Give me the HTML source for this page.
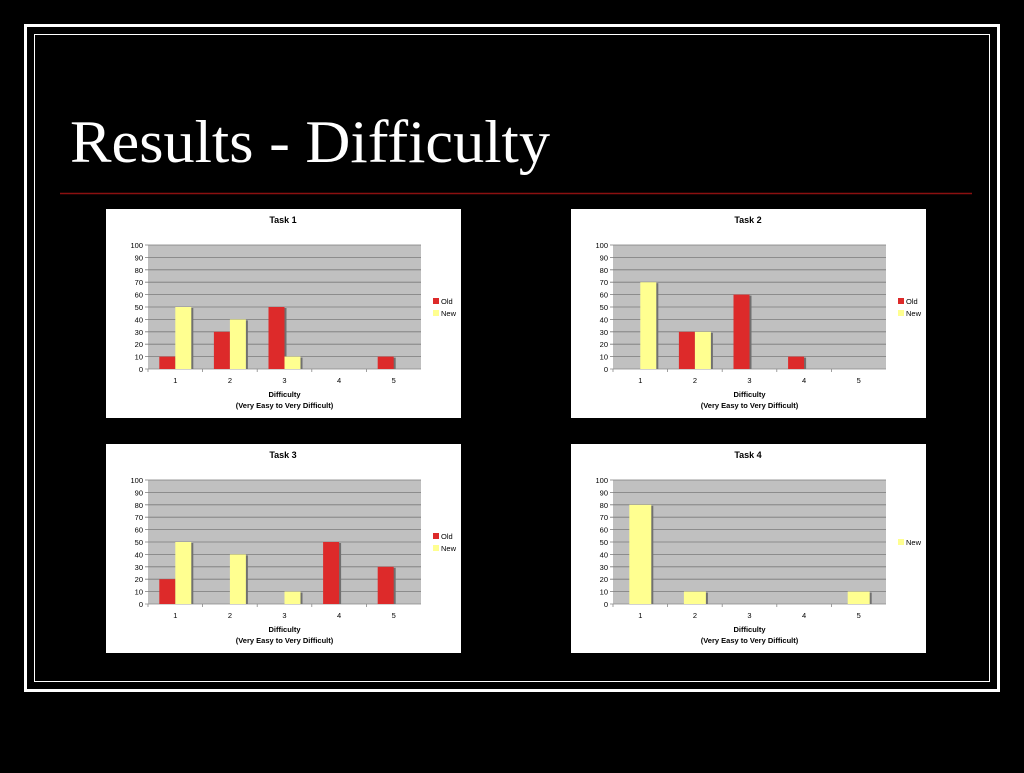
<!DOCTYPE html>
<html><head><meta charset="utf-8"><style>
html,body{margin:0;padding:0;background:#000;}
body{width:1024px;height:768px;position:relative;overflow:hidden;font-family:"Liberation Sans",sans-serif;}
</style></head><body>
<svg id="slide" width="1024" height="768" xmlns="http://www.w3.org/2000/svg">
<rect x="25.5" y="25.5" width="973" height="665" fill="none" stroke="#fff" stroke-width="3"/>
<rect x="34.5" y="34.5" width="955" height="647" fill="none" stroke="#fff" stroke-width="1"/>
<text x="70" y="162" fill="#fff" font-family="Liberation Serif, serif" font-size="60" textLength="480" lengthAdjust="spacingAndGlyphs">Results - Difficulty</text>
<line x1="60" y1="193.5" x2="972" y2="193.5" stroke="#8b1010" stroke-width="1.5"/>
<g id="charts"></g>
</svg>
<script>
const categories=["1","2","3","4","5"];
const yTicks=[0,10,20,30,40,50,60,70,80,90,100];
const task1Old=[10,30,50,0,10];
const task1New=[50,40,10,0,0];
const task2Old=[0,30,60,10,0];
const task2New=[70,30,0,0,0];
const task3Old=[20,0,0,50,30];
const task3New=[50,40,10,0,0];
const task4New=[80,10,0,0,10];
const chartTitles=["Task 1","Task 2","Task 3","Task 4"];

const NS="http://www.w3.org/2000/svg";
const root=document.getElementById('charts');
function mk(tag,attrs,parent,text){const e=document.createElementNS(NS,tag);for(const k in attrs)e.setAttribute(k,attrs[k]);if(text!==undefined)e.textContent=text;parent.appendChild(e);return e;}

function chart(px,py,title,series,key){
  const g=mk('g',{},root);
  
  
  const bg=mk('rect',{x:px,y:py,width:355,height:209,fill:'#fff'},g);
  
  
  const t=mk('text',{x:px+177,y:py+14,'text-anchor':'middle','font-size':9,'font-weight':'bold',fill:'#000'},g,title);
  
  
  const x0=px+42,x1=px+315,y0=py+160,y1=py+36;
  const sy=v=>y0-(y0-y1)*v/100;
  const cw=(x1-x0)/categories.length;
  const pa=mk('rect',{x:x0,y:y1,width:x1-x0,height:y0-y1,fill:'#c0c0c0'},g);
  
  
  yTicks.forEach(v=>{
    const l=mk('line',{x1:x0-3,x2:x1,y1:sy(v),y2:sy(v),stroke:v===0?'#888':'#7a7a7a','stroke-width':0.8},g);
    
    
    const tl=mk('text',{x:x0-5,y:sy(v)+3,'text-anchor':'end','font-size':7.5,fill:'#000'},g,String(v));
    
    
  });
  categories.forEach((c,i)=>{
    const tl=mk('text',{x:x0+cw*(i+0.5),y:y0+14,'text-anchor':'middle','font-size':7.5,fill:'#000'},g,c);
    
    
    const tk=mk('line',{x1:x0+cw*i,x2:x0+cw*i,y1:y0,y2:y0+3,stroke:'#888','stroke-width':0.8},g);
    
    
  });
  const bw=series.length===1?22:16;
  series.forEach((s,si)=>{
    s.values.forEach((v,i)=>{
      if(v<=0)return;
      const cx=x0+cw*(i+0.5);
      const bx=cx-bw*series.length/2+si*bw;
      const sh=mk('rect',{x:bx+2,y:sy(v)+1,width:bw,height:y0-sy(v)-1,fill:'#707070'},g);
      
      
      const b=mk('rect',{x:bx,y:sy(v),width:bw,height:y0-sy(v),fill:s.color},g);
      
      
    });
  });
  const ly=series.length===1?py+98:py+92;
  series.forEach((s,si)=>{
    const sq=mk('rect',{x:px+327,y:ly+si*12-3,width:6,height:6,fill:s.color},g);
    
    
    const lt=mk('text',{x:px+335,y:ly+si*12+3,'font-size':7.5,fill:'#000'},g,s.name);
    
    
  });
  const a1=mk('text',{x:(x0+x1)/2,y:py+188,'text-anchor':'middle','font-size':7.5,'font-weight':'bold',fill:'#000'},g,'Difficulty');
  
  
  const a2=mk('text',{x:(x0+x1)/2,y:py+199,'text-anchor':'middle','font-size':7.5,'font-weight':'bold',fill:'#000'},g,'(Very Easy to Very Difficult)');
  
  
}
const RED='#dd2a2a',YEL='#ffff90';
chart(106,209,chartTitles[0],[{name:'Old',values:task1Old,color:RED},{name:'New',values:task1New,color:YEL}],'task1');
chart(571,209,chartTitles[1],[{name:'Old',values:task2Old,color:RED},{name:'New',values:task2New,color:YEL}],'task2');
chart(106,444,chartTitles[2],[{name:'Old',values:task3Old,color:RED},{name:'New',values:task3New,color:YEL}],'task3');
chart(571,444,chartTitles[3],[{name:'New',values:task4New,color:YEL}],'task4');
</script>
</body></html>
